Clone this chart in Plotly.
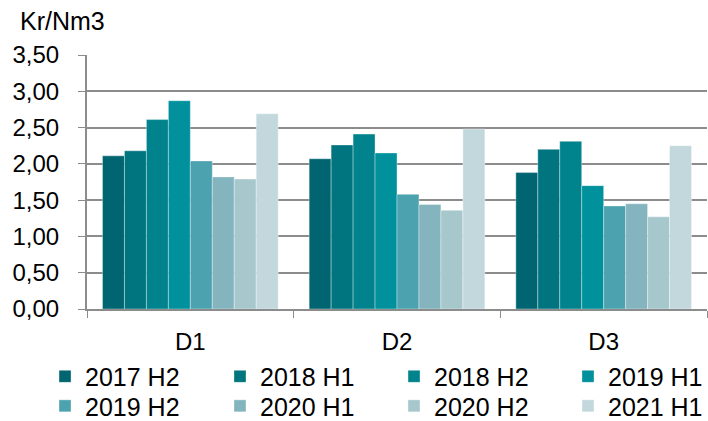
import plotly.graph_objects as go

categories = ["D1", "D2", "D3"]
series_names = ["2017 H2", "2018 H1", "2018 H2", "2019 H1",
                "2019 H2", "2020 H1", "2020 H2", "2021 H1"]
values_2017_h2 = [2.11, 2.07, 1.88]
values_2018_h1 = [2.18, 2.26, 2.20]
values_2018_h2 = [2.61, 2.41, 2.31]
values_2019_h1 = [2.87, 2.15, 1.70]
values_2019_h2 = [2.04, 1.58, 1.42]
values_2020_h1 = [1.82, 1.44, 1.45]
values_2020_h2 = [1.79, 1.36, 1.27]
values_2021_h1 = [2.69, 2.48, 2.25]
series_values = [values_2017_h2, values_2018_h1, values_2018_h2, values_2019_h1,
                 values_2019_h2, values_2020_h1, values_2020_h2, values_2021_h1]
colors = ["#006570", "#007580", "#00838D", "#00919D",
          "#4CA2AF", "#84B5BF", "#A6C8CD", "#C3D8DC"]
y_title = "Kr/Nm3"

FONT = "Liberation Sans, Arial, Helvetica, sans-serif"

# legend grid: 4 columns x 2 rows (paper coordinates)
legend_cols_x = [-0.0677, 0.2145, 0.4952, 0.7758]
legend_rows_y = [-0.2662, -0.3822]

fig = go.Figure()
layout_legends = {}
for i, (name, vals, col) in enumerate(zip(series_names, series_values, colors)):
    key = "legend" if i == 0 else f"legend{i + 1}"
    fig.add_trace(go.Bar(
        x=categories, y=vals, name=name,
        legend=key,
        marker=dict(color=col, line=dict(color="rgba(255,255,255,0.35)", width=1)),
    ))
    layout_legends[key] = dict(
        orientation="h",
        x=legend_cols_x[i % 4], xanchor="left",
        y=legend_rows_y[i // 4], yanchor="middle",
        font=dict(family=FONT, size=25, color="#000000"),
        bgcolor="rgba(0,0,0,0)", borderwidth=0,
    )

fig.update_layout(
    width=708, height=421,
    margin=dict(l=87, r=1, t=55, b=112, autoexpand=False),
    paper_bgcolor="white", plot_bgcolor="white",
    barmode="group", bargap=0.15, bargroupgap=0,
    separators=",.",
    font=dict(family=FONT, size=24, color="#000000"),
    showlegend=True,
    annotations=[dict(
        text=y_title, xref="paper", yref="paper", x=-0.1113, y=1.134,
        xanchor="left", yanchor="middle", showarrow=False,
        font=dict(family=FONT, size=25, color="#000000"),
    )],
    **layout_legends,
)

fig.update_yaxes(
    range=[0, 3.5], dtick=0.5, tick0=0, tickformat=".2f",
    showgrid=True, gridcolor="#8C8C8C", gridwidth=2,
    showline=True, linecolor="#8C8C8C", linewidth=2,
    ticks="outside", ticklen=7, tickcolor="#8C8C8C", tickwidth=1,
    zeroline=False, ticklabelstandoff=14, automargin=False,
)
fig.update_xaxes(
    showline=True, linecolor="#8C8C8C", linewidth=2,
    ticks="outside", tickson="boundaries", ticklen=7, tickcolor="#8C8C8C", tickwidth=1,
    showgrid=False, ticklabelstandoff=10, automargin=False,
)

fig.write_html(
    "out.html",
    config={"displayModeBar": False},
    post_script="document.body.style.margin='0';document.body.style.overflow='hidden';",
)
